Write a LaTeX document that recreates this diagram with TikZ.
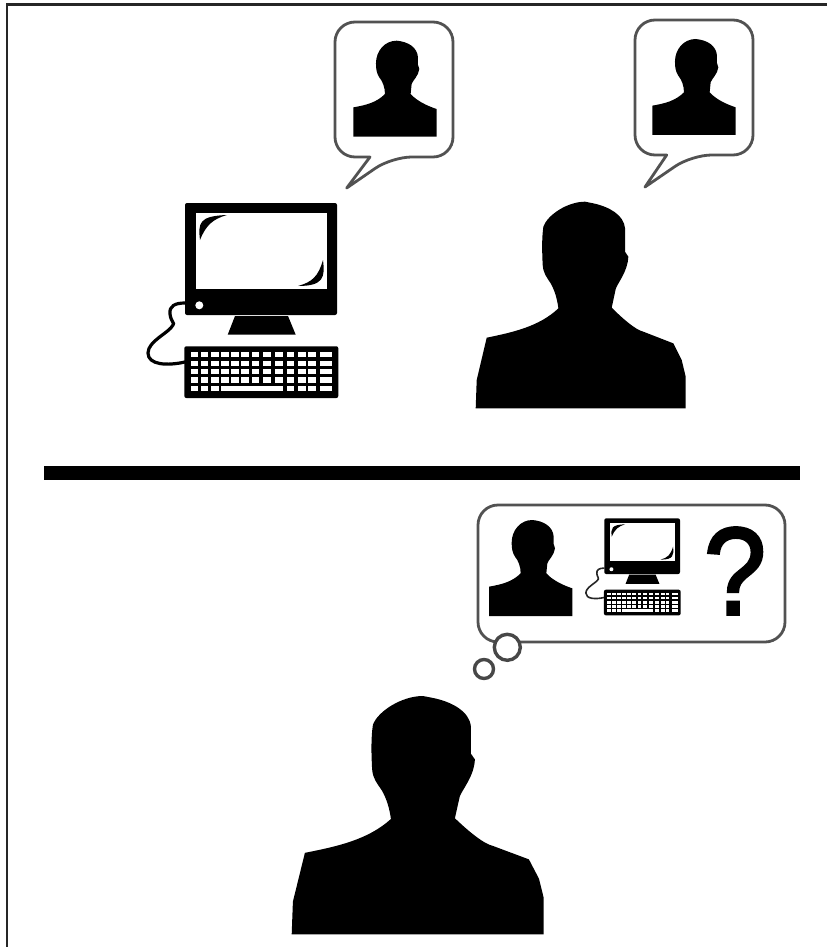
\documentclass[tikz,border=0pt]{standalone}
\usepackage{fontspec}
\setmainfont{Liberation Sans}
\newfontfamily\questfont[FakeBold=2.5]{Liberation Sans}
\usepackage{tikz}

\begin{document}
\begin{tikzpicture}[
    x=1pt, y=-1pt,
    bubble/.style={draw=black!68, line width=2.8pt, fill=white, line join=round},
    puff/.style={draw=black!72, line width=3.4pt, fill=white},
    cable/.style={draw=black, line width=3.2pt, line cap=round},
    frameline/.style={draw=black!85, line width=2.4pt},
    pics/bust/.style={code={
      \fill (0,288) -- (0,200) .. controls (40,193) and (70,185) .. (95,160)
        .. controls (95,140) and (88,122) .. (78,110) .. controls (70,98) and (68,85) .. (68,68)
        .. controls (68,30) and (95,0) .. (130,0) .. controls (165,3) and (192,20) .. (194,50)
        -- (194,72) -- (198,85) .. controls (196,105) and (178,120) .. (175,130)
        -- (172,160) .. controls (190,180) and (220,195) .. (250,205) -- (250,288) -- cycle;
    }},
    pics/person/.style={code={
      \fill (0,620) -- (3,535) -- (33,408) .. controls (110,392) and (190,375) .. (248,320)
        .. controls (245,295) and (238,268) .. (225,245) .. controls (212,225) and (203,215) .. (201,190)
        .. controls (199,150) and (198,110) .. (203,75) .. controls (215,40) and (275,0) .. (328,0)
        -- (353,5) .. controls (400,15) and (445,40) .. (448,80)
        -- (448,150) -- (458,165) .. controls (456,210) and (425,245) .. (420,262) -- (408,318)
        .. controls (440,350) and (480,385) .. (503,390) -- (593,425) -- (618,475) -- (630,525) -- (630,620) -- cycle;
    }},
    pics/computer/.style={code={
      \draw[cable] (0,100) .. controls (-10,100) and (-16,103) .. (-15,111)
        .. controls (-14,119) and (-10,120) .. (-12,122) .. controls (-16,130) and (-37,138) .. (-37,150)
        .. controls (-37,162) and (-18,163) .. (0,159);
      \fill[rounded corners=2pt] (0,0) rectangle (152,112);
      \fill[white] (11,10) rectangle (142,86);
      \fill[white] (14.3,102.3) circle (4);
      \fill (15,37) .. controls (13,20) and (14,13) .. (42,12) .. controls (28,16) and (21,22) .. (15,37);
      \fill (138,57) .. controls (140,74) and (139,83) .. (113,83) .. controls (127,79) and (133,74) .. (138,57);
      \fill (50,113) -- (103,113) -- (110.7,131.7) -- (42.7,131.7) -- cycle;
      \fill[rounded corners=2pt] (-0.7,143.3) rectangle (153.3,195);
      \foreach \rowy in {149,157.6,166,174.4} {
        \foreach \keyx in {5.7,15.7,26,36,46,56,66.7,78.3,90,101.7,113.3,123.3}
          \fill[white] (\keyx,\rowy) rectangle +(7.6,5.4);
        \fill[white] (135,\rowy) rectangle +(12.4,5.4);
      }
      \foreach \keyx in {5.7,15.7,26,101.7,113.3,123.3}
        \fill[white] (\keyx,183) rectangle +(7.6,5.4);
      \fill[white] (35.7,183) rectangle (98.3,188.4);
      \fill[white] (135,183) rectangle +(12.4,5.4);
    }}
  ]
    \useasboundingbox (0,0) rectangle (827,947);
    \draw[frameline] (7,947) -- (7,4.5) -- (827,4.5);

    % top half
    \draw[bubble, rounded corners=20pt] (370,157) -- (335,157) -- (335,22) -- (453,22) -- (453,157) -- (391.7,157) [sharp corners] -- (346.7,188) -- cycle;
    \draw[bubble, rounded corners=20pt] (666.7,155) -- (635,155) -- (635,20) -- (753,20) -- (753,155) -- (691.7,155) [sharp corners] -- (645,187) -- cycle;
    \pic[scale=1/3] at (353.3,40.7) {bust};
    \pic[scale=1/3] at (652.3,39) {bust};
    \pic at (185,203) {computer};
    \pic[scale=1/3] at (475.7,201.7) {person};

    \fill (44,466) rectangle (800,480);

    % bottom half
    \draw[bubble, rounded corners=20pt] (478,505) rectangle (785,642);
    \draw[puff] (507.3,647.3) circle (13);
    \draw[puff] (484,669) circle (9.5);
    \pic[scale=1/3] at (489,520) {bust};
    \pic[scale=.498, cable/.style={draw=black!85, line width=1.6pt}] at (604.3,518.3) {computer};
    \node[inner sep=0pt, xscale=.9, font=\questfont\fontsize{124}{124}\selectfont] (quest) at (735,571) {?};
    \pic[xscale=.4, yscale=.3844] at (291.7,696) {person};
  \end{tikzpicture}
\end{document}
